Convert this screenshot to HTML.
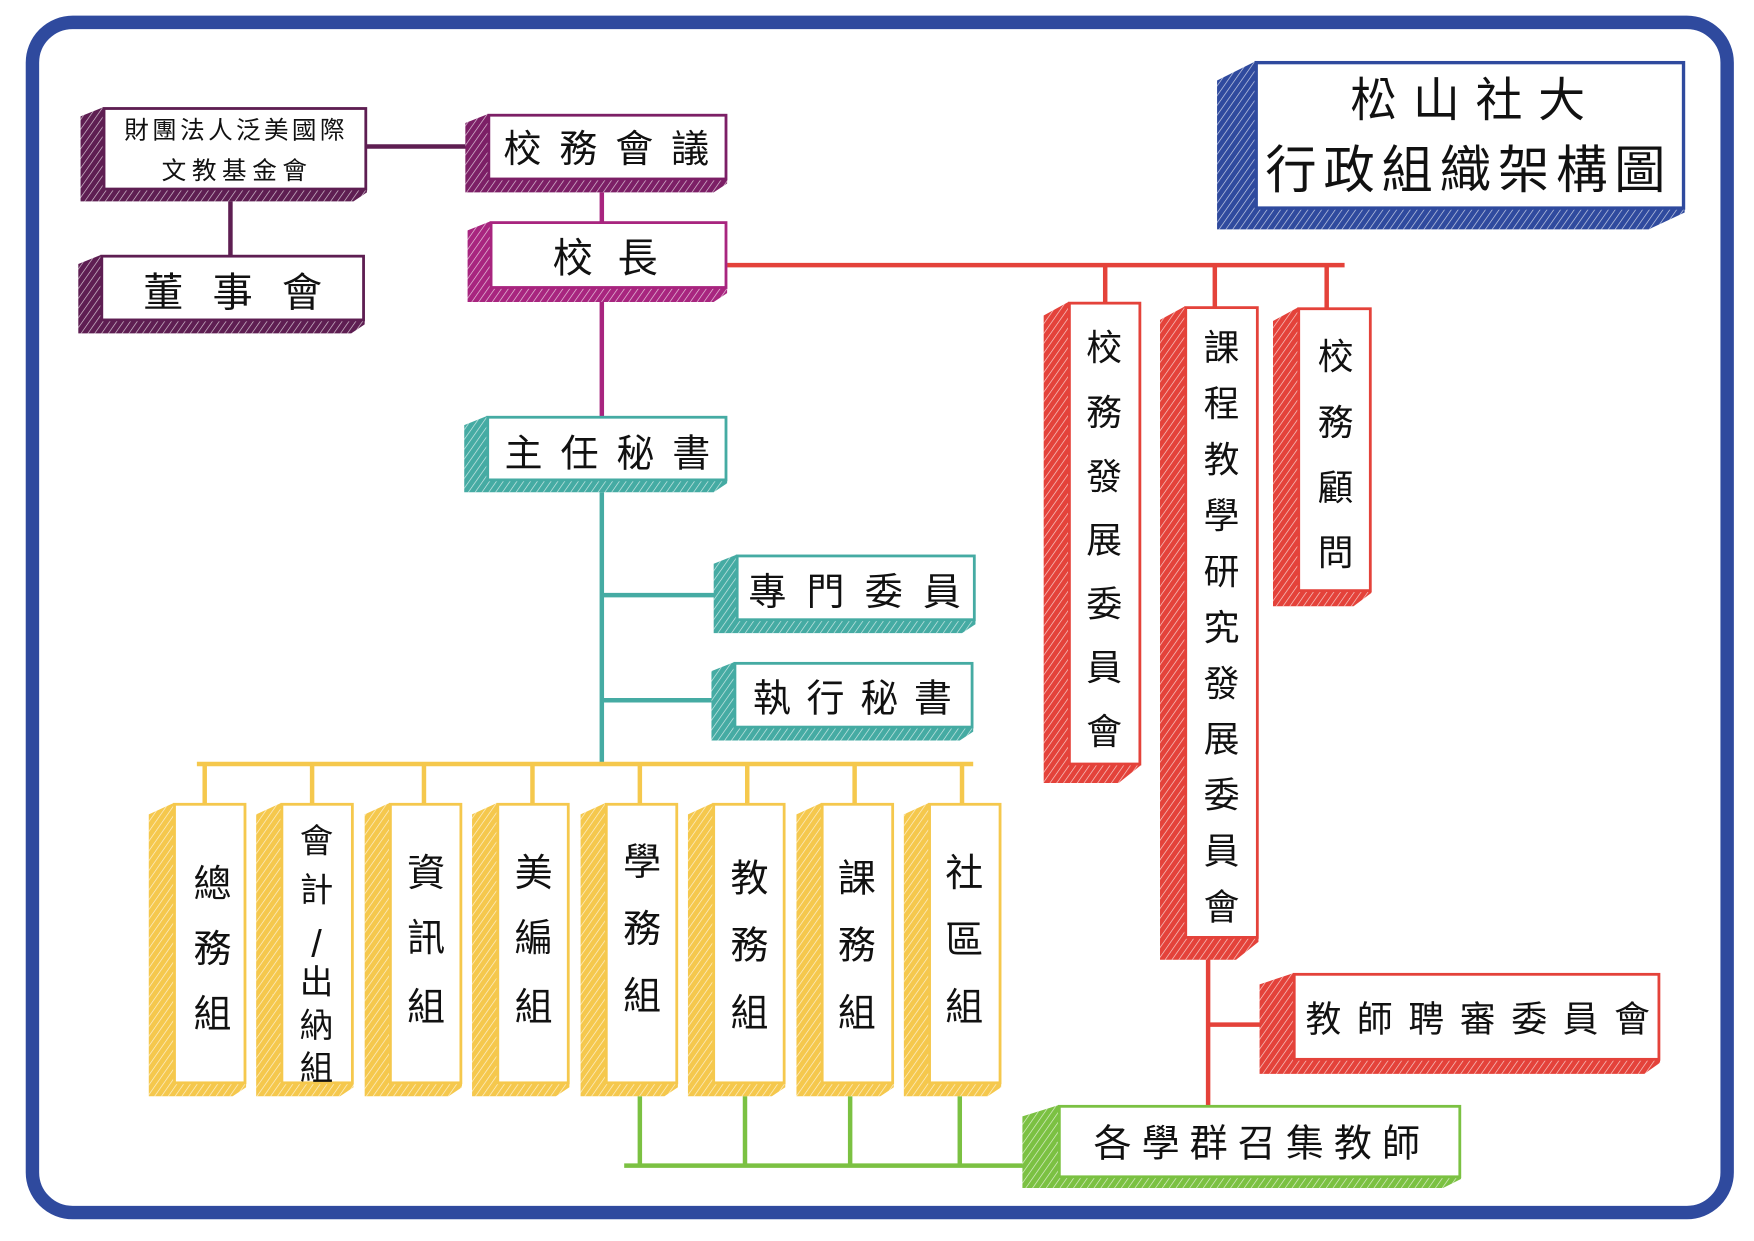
<!DOCTYPE html>
<html><head><meta charset="utf-8">
<style>
html,body{margin:0;padding:0;background:#fff;}
svg{display:block;}
text{font-family:"Liberation Sans","Noto Sans CJK TC","Noto Sans CJK SC",sans-serif;fill:#111;}
</style></head>
<body>
<svg width="1754" height="1241" viewBox="0 0 1568 1109.4" xmlns="http://www.w3.org/2000/svg">
<defs>
<pattern id="h" patternUnits="userSpaceOnUse" width="5" height="5" patternTransform="rotate(35)">
<line x1="0" y1="0" x2="0" y2="5" stroke="#fff" stroke-width="1.2" stroke-opacity="0.75"/>
</pattern>
</defs>
<rect x="0" y="0" width="1568" height="1110" fill="#fff"/>
<rect x="29" y="20" width="1515" height="1064" rx="36" fill="none" stroke="#2f4a9e" stroke-width="12"/>

<g stroke-width="4" fill="none">
<line x1="328" y1="131" x2="418" y2="131" stroke="#5e1e52"/>
<line x1="206" y1="180" x2="206" y2="230" stroke="#5e1e52"/>
<line x1="538" y1="172" x2="538" y2="200" stroke="#a8257f"/>
<line x1="538" y1="270" x2="538" y2="374" stroke="#a8257f"/>
<line x1="538" y1="440" x2="538" y2="684" stroke="#45aba3"/>
<line x1="538" y1="532" x2="640" y2="532" stroke="#45aba3"/>
<line x1="538" y1="626" x2="638" y2="626" stroke="#45aba3"/>
<line x1="176" y1="683" x2="870" y2="683" stroke="#f5c84d"/>
<line x1="183" y1="683" x2="183" y2="720" stroke="#f5c84d"/>
<line x1="279" y1="683" x2="279" y2="720" stroke="#f5c84d"/>
<line x1="379" y1="683" x2="379" y2="720" stroke="#f5c84d"/>
<line x1="476" y1="683" x2="476" y2="720" stroke="#f5c84d"/>
<line x1="572" y1="683" x2="572" y2="720" stroke="#f5c84d"/>
<line x1="668" y1="683" x2="668" y2="720" stroke="#f5c84d"/>
<line x1="764" y1="683" x2="764" y2="720" stroke="#f5c84d"/>
<line x1="860" y1="683" x2="860" y2="720" stroke="#f5c84d"/>
<line x1="572" y1="980" x2="572" y2="1042" stroke="#7bc142"/>
<line x1="666" y1="980" x2="666" y2="1042" stroke="#7bc142"/>
<line x1="760" y1="980" x2="760" y2="1042" stroke="#7bc142"/>
<line x1="858" y1="980" x2="858" y2="1042" stroke="#7bc142"/>
<line x1="558" y1="1042" x2="916" y2="1042" stroke="#7bc142"/>
<line x1="650" y1="237" x2="1202" y2="237" stroke="#e4423a"/>
<line x1="988" y1="237" x2="988" y2="272" stroke="#e4423a"/>
<line x1="1086" y1="237" x2="1086" y2="276" stroke="#e4423a"/>
<line x1="1186" y1="237" x2="1186" y2="277" stroke="#e4423a"/>
<line x1="1080" y1="856" x2="1080" y2="990" stroke="#e4423a"/>
<line x1="1080" y1="916" x2="1128" y2="916" stroke="#e4423a"/>
</g>

<g>
<polygon points="72,104 92,96 328,96 328,172 316,180 72,180" fill="#5e1e52"/><polygon points="72,104 92,96 328,96 328,172 316,180 72,180" fill="url(#h)"/>
<rect x="93" y="97" width="234" height="72" fill="#fff" stroke="#5e1e52" stroke-width="2.5"/>
<polygon points="70,236 90,228 326,228 326,290 314,298 70,298" fill="#5e1e52"/><polygon points="70,236 90,228 326,228 326,290 314,298 70,298" fill="url(#h)"/>
<rect x="91" y="229" width="234" height="57" fill="#fff" stroke="#5e1e52" stroke-width="2.5"/>
<polygon points="416,110 436,102 650,102 650,164 638,172 416,172" fill="#7c1f66"/><polygon points="416,110 436,102 650,102 650,164 638,172 416,172" fill="url(#h)"/>
<rect x="437" y="103" width="212" height="57" fill="#fff" stroke="#7c1f66" stroke-width="2.5"/>
<polygon points="418,206 438,198 650,198 650,262 638,270 418,270" fill="#a8257f"/><polygon points="418,206 438,198 650,198 650,262 638,270 418,270" fill="url(#h)"/>
<rect x="439" y="199" width="210" height="58" fill="#fff" stroke="#a8257f" stroke-width="2.5"/>
<polygon points="415,380 435,372 650,372 650,432 638,440 415,440" fill="#45aba3"/><polygon points="415,380 435,372 650,372 650,432 638,440 415,440" fill="url(#h)"/>
<rect x="436" y="373" width="213" height="56" fill="#fff" stroke="#45aba3" stroke-width="2.5"/>
<polygon points="638,504 658,496 872,496 872,558 860,566 638,566" fill="#45aba3"/><polygon points="638,504 658,496 872,496 872,558 860,566 638,566" fill="url(#h)"/>
<rect x="659" y="497" width="212" height="57" fill="#fff" stroke="#45aba3" stroke-width="2.5"/>
<polygon points="636,600 656,592 870,592 870,654 858,662 636,662" fill="#45aba3"/><polygon points="636,600 656,592 870,592 870,654 858,662 636,662" fill="url(#h)"/>
<rect x="657" y="593" width="212" height="57" fill="#fff" stroke="#45aba3" stroke-width="2.5"/>
</g>

<g fill="#f5c84d">
<polygon points="133,728 155,718 220,718 220,972 208,980 133,980"/>
<polygon points="229,728 251,718 316,718 316,972 304,980 229,980"/>
<polygon points="326,728 348,718 413,718 413,972 401,980 326,980"/>
<polygon points="422,728 444,718 509,718 509,972 497,980 422,980"/>
<polygon points="519,728 541,718 606,718 606,972 594,980 519,980"/>
<polygon points="615,728 637,718 702,718 702,972 690,980 615,980"/>
<polygon points="712,728 734,718 799,718 799,972 787,980 712,980"/>
<polygon points="808,728 830,718 895,718 895,972 883,980 808,980"/>
</g>
<g fill="url(#h)">
<polygon points="133,728 155,718 220,718 220,972 208,980 133,980"/>
<polygon points="229,728 251,718 316,718 316,972 304,980 229,980"/>
<polygon points="326,728 348,718 413,718 413,972 401,980 326,980"/>
<polygon points="422,728 444,718 509,718 509,972 497,980 422,980"/>
<polygon points="519,728 541,718 606,718 606,972 594,980 519,980"/>
<polygon points="615,728 637,718 702,718 702,972 690,980 615,980"/>
<polygon points="712,728 734,718 799,718 799,972 787,980 712,980"/>
<polygon points="808,728 830,718 895,718 895,972 883,980 808,980"/>
</g>
<g fill="#fff" stroke="#f5c84d" stroke-width="2.5">
<rect x="156" y="719" width="63" height="249"/>
<rect x="252" y="719" width="63" height="249"/>
<rect x="349" y="719" width="63" height="249"/>
<rect x="445" y="719" width="63" height="249"/>
<rect x="542" y="719" width="63" height="249"/>
<rect x="638" y="719" width="63" height="249"/>
<rect x="735" y="719" width="63" height="249"/>
<rect x="831" y="719" width="63" height="249"/>
</g>

<g fill="#e4423a">
<polygon points="933,282 955,270 1020,270 1020,684 1000,700 933,700"/>
<polygon points="1037,286 1059,274 1125,274 1125,842 1105,858 1037,858"/>
<polygon points="1138,287 1160,275 1226,275 1226,530 1210,542 1138,542"/>
<polygon points="1126,880 1156,870 1484,870 1484,950 1470,960 1126,960"/>
</g>
<g fill="url(#h)">
<polygon points="933,282 955,270 1020,270 1020,684 1000,700 933,700"/>
<polygon points="1037,286 1059,274 1125,274 1125,842 1105,858 1037,858"/>
<polygon points="1138,287 1160,275 1226,275 1226,530 1210,542 1138,542"/>
<polygon points="1126,880 1156,870 1484,870 1484,950 1470,960 1126,960"/>
</g>
<g fill="#fff" stroke="#e4423a" stroke-width="2.5">
<rect x="956" y="271" width="63" height="412"/>
<rect x="1060" y="275" width="64" height="563"/>
<rect x="1161" y="276" width="64" height="252"/>
<rect x="1157" y="871" width="326" height="76"/>
</g>

<polygon points="914,998 946,988 1306,988 1306,1054 1290,1062 914,1062" fill="#7bc142"/>
<polygon points="914,998 946,988 1306,988 1306,1054 1290,1062 914,1062" fill="url(#h)"/>
<rect x="947" y="989" width="358" height="63" fill="#fff" stroke="#7bc142" stroke-width="2.5"/>

<polygon points="1088,72 1122,55 1506,55 1506,190 1474,205 1088,205" fill="#2f4a9e"/>
<polygon points="1088,72 1122,55 1506,55 1506,190 1474,205 1088,205" fill="url(#h)"/>
<rect x="1123" y="56" width="382" height="130" fill="#fff" stroke="#2f4a9e" stroke-width="3"/>

<g text-anchor="middle">
<text x="211" y="124" font-size="22" letter-spacing="3">財團法人泛美國際</text>
<text x="212" y="160" font-size="22" letter-spacing="5">文教基金會</text>
<text x="221" y="274" font-size="36" letter-spacing="26">董事會</text>
<text x="550" y="145" font-size="34" letter-spacing="16">校務會議</text>
<text x="552" y="243" font-size="36" letter-spacing="22">校長</text>
<text x="551" y="417" font-size="34" letter-spacing="16">主任秘書</text>
<text x="773" y="541" font-size="34" letter-spacing="18">專門委員</text>
<text x="769" y="636" font-size="34" letter-spacing="14">執行秘書</text>
<text x="1128" y="1034" font-size="34" letter-spacing="9">各學群召集教師</text>
<text x="1328" y="922" font-size="32" letter-spacing="14">教師聘審委員會</text>
<text x="1319" y="104" font-size="42" letter-spacing="14">松山社大</text>
<text x="1313" y="168" font-size="46" letter-spacing="6">行政組織架構圖</text>
</g>

<g text-anchor="middle" font-size="34">
<text x="190" y="802">總</text><text x="190" y="860">務</text><text x="190" y="918">組</text>
<text x="283" y="762" font-size="30">會</text><text x="283" y="806" font-size="30">計</text><text x="283" y="855" font-size="34">/</text><text x="283" y="888" font-size="30">出</text><text x="283" y="927" font-size="30">納</text><text x="283" y="965" font-size="30">組</text>
<text x="381" y="792">資</text><text x="381" y="850">訊</text><text x="381" y="912">組</text>
<text x="477" y="792">美</text><text x="477" y="850">編</text><text x="477" y="912">組</text>
<text x="574" y="782">學</text><text x="574" y="842">務</text><text x="574" y="902">組</text>
<text x="670" y="797">教</text><text x="670" y="857">務</text><text x="670" y="917">組</text>
<text x="766" y="797">課</text><text x="766" y="857">務</text><text x="766" y="917">組</text>
<text x="862" y="792">社</text><text x="862" y="852">區</text><text x="862" y="912">組</text>
</g>

<g text-anchor="middle" font-size="32">
<text x="987" y="322">校</text><text x="987" y="380">務</text><text x="987" y="437">發</text><text x="987" y="494">展</text><text x="987" y="551">委</text><text x="987" y="608">員</text><text x="987" y="665">會</text>
<text x="1092" y="322">課</text><text x="1092" y="372">程</text><text x="1092" y="422">教</text><text x="1092" y="472">學</text><text x="1092" y="522">研</text><text x="1092" y="572">究</text><text x="1092" y="622">發</text><text x="1092" y="672">展</text><text x="1092" y="722">委</text><text x="1092" y="772">員</text><text x="1092" y="822">會</text>
<text x="1194" y="330">校</text><text x="1194" y="389">務</text><text x="1194" y="447">顧</text><text x="1194" y="505">問</text>
</g>
</svg>
</body></html>
